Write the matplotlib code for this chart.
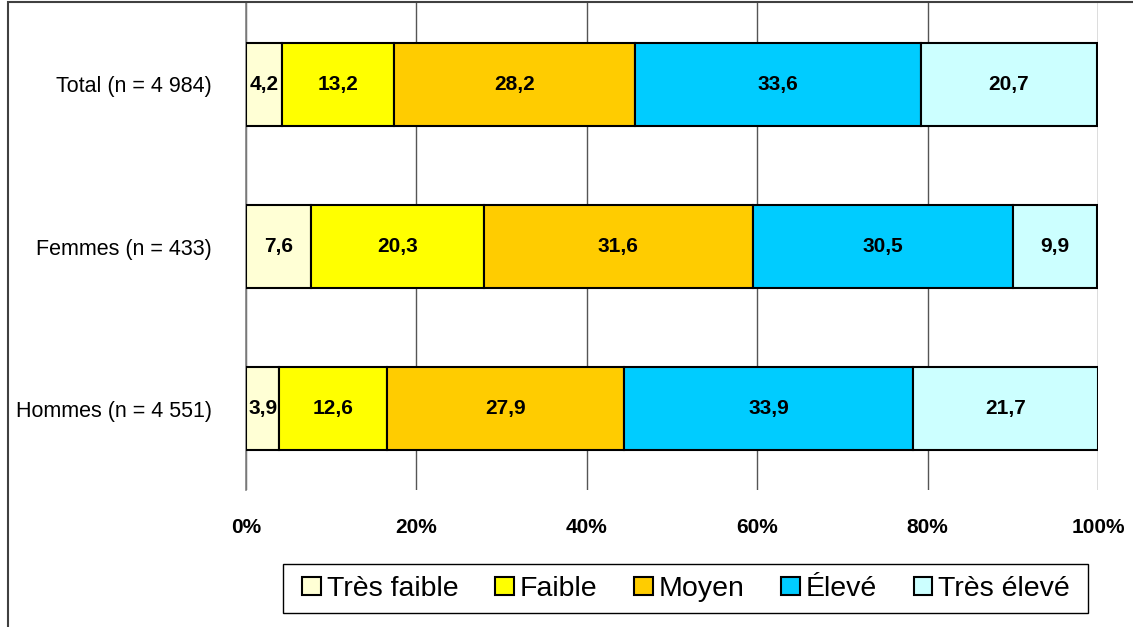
import matplotlib
matplotlib.use("Agg")
import matplotlib.pyplot as plt
from matplotlib.patches import Rectangle, Patch
import numpy as np

plt.rcParams['font.family'] = ['Liberation Sans', 'DejaVu Sans']

groups = ["Total (n = 4 984)", "Femmes (n = 433)", "Hommes (n = 4 551)"]
levels = ["Très faible", "Faible", "Moyen", "Élevé", "Très élevé"]
colors = ["#FFFFD5", "#FFFF00", "#FFCC00", "#00CCFF", "#CCFFFF"]

tres_faible = [4.2, 7.6, 3.9]
faible = [13.2, 20.3, 12.6]
moyen = [28.2, 31.6, 27.9]
eleve = [33.6, 30.5, 33.9]
tres_eleve = [20.7, 9.9, 21.7]
series = [tres_faible, faible, moyen, eleve, tres_eleve]

W, H = 1133, 627
fig = plt.figure(figsize=(W / 100, H / 100), dpi=100)
ax = fig.add_axes([246 / W, 1 - 490 / H, 852 / W, 487 / H])

# outer chart frame (only top and left visible in the crop)
fig.patches.append(Rectangle((8 / W, -0.1), 1.2, 1.1 - 2.5 / H, transform=fig.transFigure,
                             fill=False, edgecolor="#404040", linewidth=1.5, zorder=0))

y = np.arange(len(groups))
left = np.zeros(len(groups))
for vals, col, name in zip(series, colors, levels):
    vals = np.array(vals)
    ax.barh(y, vals, left=left, height=0.51, color=col, edgecolor="black",
            linewidth=1.5, label=name, zorder=3)
    for yi, l, v in zip(y, left, vals):
        ax.text(l + v / 2, yi, f"{v:.1f}".replace(".", ","), ha="center", va="center",
                fontsize=15, fontweight="bold", zorder=4)
    left += vals

ax.set_xlim(0, 100)
ax.set_ylim(len(groups) - 0.5, -0.5)
ax.set_yticks(y)
ax.set_yticklabels(groups, fontsize=15.5)
ax.set_xticks(np.arange(0, 101, 20))
ax.set_xticklabels([f"{v}%" for v in range(0, 101, 20)], fontsize=15, fontweight="bold")
ax.tick_params(axis="y", length=0, pad=24.5)
ax.tick_params(axis="x", length=0, pad=20)
ax.grid(axis="x", color="#555555", linewidth=1, zorder=0)
for s in ["top", "right", "bottom"]:
    ax.spines[s].set_visible(False)
ax.spines["left"].set_color("#808080")
ax.spines["left"].set_linewidth(1.2)

handles = [Patch(facecolor=c, edgecolor="black", linewidth=1.5, label=n)
           for c, n in zip(colors, levels)]
leg = fig.legend(handles=handles, loc="center", bbox_to_anchor=(686 / W, 1 - 589 / H),
                 ncol=5, fontsize=20.5, frameon=False, handlelength=0.65,
                 handleheight=0.62, handletextpad=0.2, columnspacing=1.3,
                 borderpad=0.3, borderaxespad=0)
# legend box
fig.patches.append(Rectangle((283 / W, 1 - 613 / H), (1088 - 283) / W, 49 / H,
                             transform=fig.transFigure, fill=False,
                             edgecolor="black", linewidth=1.0))

fig.savefig("out.png", dpi=100)
